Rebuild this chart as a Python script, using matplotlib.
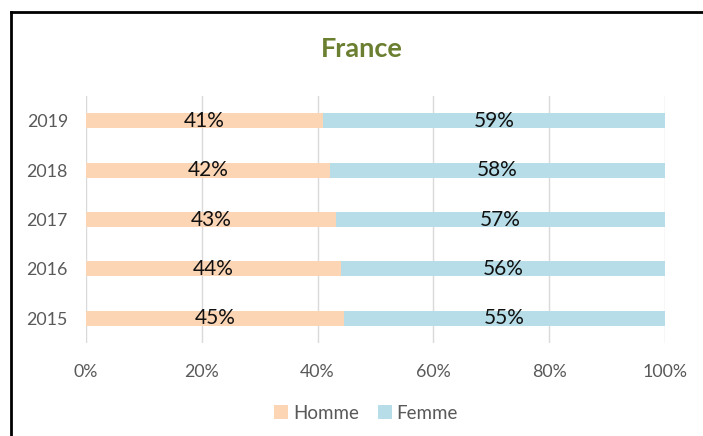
import matplotlib
matplotlib.use("Agg")
import matplotlib.pyplot as plt
from matplotlib.lines import Line2D
from matplotlib.patches import Patch
from matplotlib.ticker import FuncFormatter

years = ["2015", "2016", "2017", "2018", "2019"]
homme = [44.6, 44.0, 43.2, 42.1, 40.9]
femme = [100 - h for h in homme]
series_names = ["Homme", "Femme"]
xticks = [0, 20, 40, 60, 80, 100]

plt.rcParams['font.family'] = ['Lato', 'DejaVu Sans']

c_h = "#FCD5B5"
c_f = "#B7DEE8"

fig = plt.figure(figsize=(7.03, 4.36), dpi=100)
ax = fig.add_axes([86/703, 1-343/436, (665-86)/703, (343-96)/436])

y = list(range(len(years)))
ax.barh(y, homme, height=0.3, color=c_h, zorder=3)
ax.barh(y, femme, left=homme, height=0.3, color=c_f, zorder=3)

for i in range(len(years)):
    ax.text(homme[i]/2, i, f"{round(homme[i])}%", ha="center", va="center",
            fontsize=15, color="#111111", zorder=4)
    ax.text(homme[i] + femme[i]/2, i, f"{round(femme[i])}%", ha="center", va="center",
            fontsize=15, color="#111111", zorder=4)

ax.set_xlim(0, 100)
ax.set_ylim(-0.5, len(years) - 0.5)
ax.set_xticks(xticks)
ax.xaxis.set_major_formatter(FuncFormatter(lambda v, p: f"{v:.0f}%"))
ax.set_yticks(y)
ax.set_yticklabels(years)
ax.tick_params(axis="both", length=0, labelsize=12.8, colors="#595959")
ax.tick_params(axis="x", pad=15)
ax.tick_params(axis="y", pad=13)
ax.grid(axis="x", color="#D9D9D9", linewidth=1, zorder=0)
for s in ax.spines.values():
    s.set_visible(False)

fig.text(0.515, 1-49/436, "France", ha="center", va="center", fontsize=19.5,
         fontweight="bold", color="#6B7F30")

handles = [Patch(facecolor=c_h), Patch(facecolor=c_f)]
fig.legend(handles, series_names, loc="center", bbox_to_anchor=(366/703, 1-413/436),
           ncol=2, frameon=False, fontsize=13.5, labelcolor="#595959",
           handlelength=0.75, handleheight=0.75, handletextpad=0.25, columnspacing=1.0)

fig.add_artist(Line2D([11/703, 1], [1-12/436, 1-12/436], color="black", linewidth=2,
                      transform=fig.transFigure))
fig.add_artist(Line2D([11/703, 11/703], [0, 1-12/436], color="black", linewidth=2,
                      transform=fig.transFigure))

fig.savefig("out.png", dpi=100)
